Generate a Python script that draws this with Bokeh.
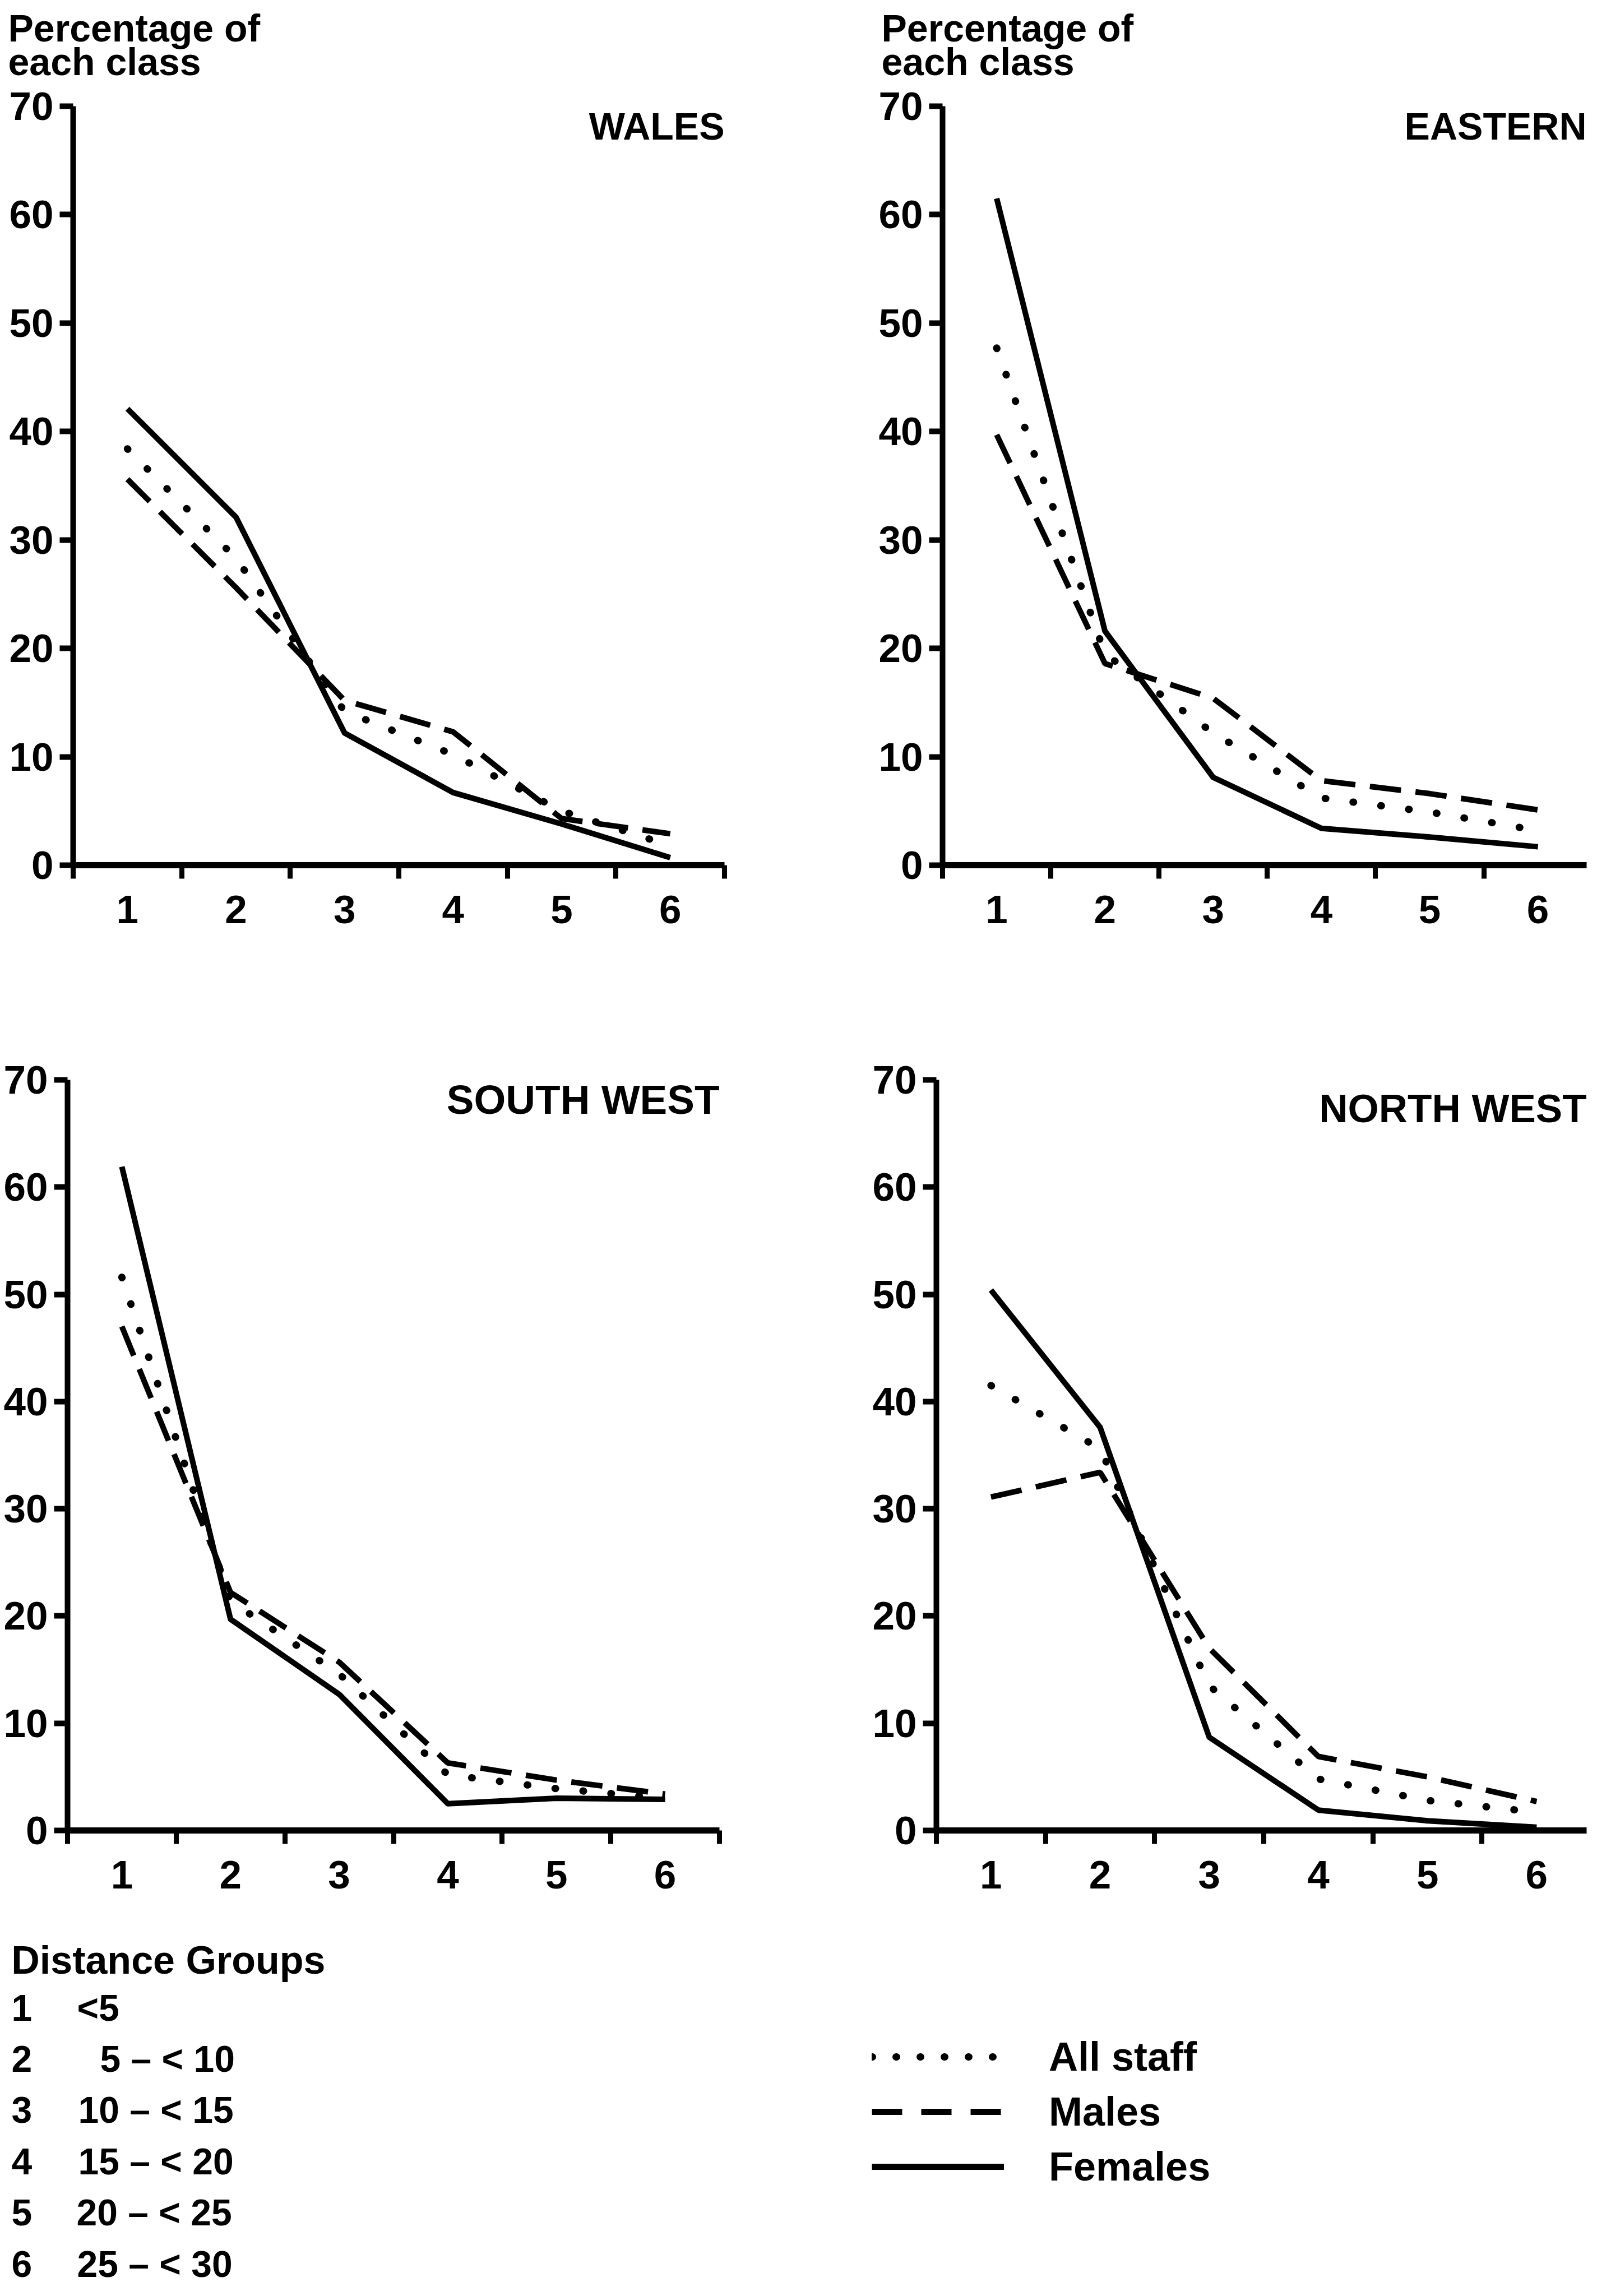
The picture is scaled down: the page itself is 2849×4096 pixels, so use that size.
from bokeh.plotting import figure
from bokeh.models import Range1d, FixedTicker, Label, Legend, LegendItem
from bokeh.layouts import column, row
from bokeh.embed import file_html
from bokeh.resources import INLINE
from bokeh.core.properties import value

# ---------------- data ----------------
distance_groups = [1, 2, 3, 4, 5, 6]
x_tick_labels = ["1", "2", "3", "4", "5", "6"]
y_ticks = [0, 10, 20, 30, 40, 50, 60, 70]
region_names = ["WALES", "EASTERN", "SOUTH WEST", "NORTH WEST"]
series_names = ["All staff", "Males", "Females"]

wales_all = [38.4, 28.3, 14.2, 10.2, 5.0, 1.8]
wales_males = [35.6, 25.6, 15.2, 12.3, 4.3, 2.9]
wales_females = [42.1, 32.1, 12.2, 6.7, 3.8, 0.7]

eastern_all = [47.7, 19.5, 12.2, 6.2, 4.9, 3.2]
eastern_males = [39.7, 18.6, 15.4, 7.8, 6.6, 5.1]
eastern_females = [61.5, 21.6, 8.1, 3.4, 2.6, 1.7]

southwest_all = [51.6, 21.4, 14.6, 5.2, 3.9, 3.0]
southwest_males = [47.0, 22.2, 15.7, 6.3, 4.7, 3.4]
southwest_females = [61.9, 19.7, 12.7, 2.5, 3.0, 2.9]

northwest_all = [41.5, 35.6, 13.5, 4.8, 2.8, 1.7]
northwest_males = [31.1, 33.4, 17.0, 6.9, 5.0, 2.7]
northwest_females = [50.4, 37.6, 8.7, 1.9, 0.9, 0.3]

group_numbers = ["1", "2", "3", "4", "5", "6"]
group_ranges = ["<5", "5 \u2013 < 10", "10 \u2013 < 15", "15 \u2013 < 20", "20 \u2013 < 25", "25 \u2013 < 30"]

y_axis_title_lines = ["Percentage of", "each class"]
legend_heading = "Distance Groups"

# ---------------- style ----------------
FONT = "Liberation Sans"
INK = "black"
NAN = float("nan")
HEADER_H = 150
KEY_TOP = 3428
KEY_H = 656


def panel(name, allv, males, females, width, height, bl, br, bt, bb, x_end,
          title_dx, title_dy, title_size):
    p = figure(width=width, height=height, title=None,
               x_range=Range1d(0.5, x_end), y_range=Range1d(0, 70),
               output_backend="svg", toolbar_location=None,
               min_border_left=bl, min_border_right=br,
               min_border_top=bt, min_border_bottom=bb)
    p.outline_line_color = None
    p.grid.visible = False
    p.background_fill_color = "white"
    p.border_fill_color = "white"

    xa = p.xaxis[0]
    xa.ticker = FixedTicker(ticks=distance_groups,
                            minor_ticks=[g - 0.5 for g in distance_groups] + [distance_groups[-1] + 0.5])
    xa.major_label_overrides = {g: l for g, l in zip(distance_groups, x_tick_labels)}
    xa.axis_line_width = 11
    xa.axis_line_color = INK
    xa.major_tick_out = 0
    xa.major_tick_in = 0
    xa.minor_tick_out = 24
    xa.minor_tick_in = 0
    xa.minor_tick_line_width = 9
    xa.minor_tick_line_color = INK
    xa.major_label_standoff = 30
    xa.major_label_text_font = FONT
    xa.major_label_text_font_style = "bold"
    xa.major_label_text_font_size = "71px"
    xa.major_label_text_color = INK

    ya = p.yaxis[0]
    ya.ticker = FixedTicker(ticks=y_ticks)
    ya.axis_line_width = 10
    ya.axis_line_color = INK
    ya.major_tick_out = 24
    ya.major_tick_in = 0
    ya.major_tick_line_width = 10
    ya.major_tick_line_color = INK
    ya.minor_tick_out = 0
    ya.minor_tick_in = 0
    ya.major_label_standoff = 11
    ya.major_label_text_font = FONT
    ya.major_label_text_font_style = "bold"
    ya.major_label_text_font_size = "71px"
    ya.major_label_text_color = INK

    p.add_layout(Label(x=x_end, y=70, text=name, text_align="right", text_baseline="middle",
                       x_offset=title_dx, y_offset=-title_dy,
                       text_font=FONT, text_font_style="bold", text_font_size=title_size,
                       text_color=INK))

    p.line(distance_groups, allv, line_width=13, line_dash="1 49", line_cap="round", color=INK)
    p.line(distance_groups, males, line_width=10, line_dash="56 26", color=INK)
    p.line(distance_groups, females, line_width=10, line_join="round", color=INK)
    return p


# ---------------- header strip (y-axis titles) ----------------
h = figure(width=2833, height=HEADER_H, x_range=Range1d(8, 2841), y_range=Range1d(8 + HEADER_H, 8),
           output_backend="svg", toolbar_location=None,
           x_axis_location=None, y_axis_location=None, min_border=0)
h.outline_line_color = None
h.grid.visible = False
htxt = dict(text_font=value(FONT), text_font_style="bold", text_baseline="middle",
            text_align="left", text_color=INK, text_font_size="68px")
for xl in (22, 1580):
    h.text(x=[xl, xl], y=[57, 117], text=y_axis_title_lines, **htxt)

top_b = 189 - HEADER_H
p_wales = panel(region_names[0], wales_all, wales_males, wales_females,
                1400, 1700 - HEADER_H, 130, 108, top_b, 157, 6.5, 0, 35, "68px")
p_east = panel(region_names[1], eastern_all, eastern_males, eastern_females,
               1433, 1700 - HEADER_H, 281, 3, top_b, 157, 6.45, 0, 35, "68px")
p_sw = panel(region_names[2], southwest_all, southwest_males, southwest_females,
             1400, 1720, 120, 117, 226, 136, 6.5, 0, 35, "73px")
p_nw = panel(region_names[3], northwest_all, northwest_males, northwest_females,
             1433, 1720, 270, 3, 221, 155, 6.458, 0, 51, "71px")

# ---------------- bottom key ----------------
b = figure(width=2833, height=KEY_H, x_range=Range1d(8, 2841),
           y_range=Range1d(KEY_TOP + KEY_H, KEY_TOP),
           output_backend="svg", toolbar_location=None,
           x_axis_location=None, y_axis_location=None, min_border=0)
b.outline_line_color = None
b.grid.visible = False

txt = dict(text_font=value(FONT), text_font_style="bold", text_baseline="middle",
           text_align="left", text_color=INK)
b.text(x=[27.7], y=[3504], text=[legend_heading], text_font_size="70px", **txt)
row_y = [3589 + i * 91.4 for i in range(len(group_numbers))]
b.text(x=[28] * len(group_numbers), y=row_y, text=group_numbers, text_font_size="66px", **txt)
b.text(x=[145, 186, 147, 147, 144, 145], y=row_y, text=group_ranges, text_font_size="66px", **txt)

r_all = b.line(x=[NAN], y=[NAN], line_width=13, line_dash="1 42", line_cap="round", color=INK)
r_m = b.line(x=[NAN], y=[NAN], line_width=11, line_dash="54 34", color=INK)
r_f = b.line(x=[NAN], y=[NAN], line_width=11, color=INK)
leg = Legend(items=[LegendItem(label=series_names[0], renderers=[r_all]),
                    LegendItem(label=series_names[1], renderers=[r_m]),
                    LegendItem(label=series_names[2], renderers=[r_f])],
             location=(1555, 173 - (660 - KEY_H)), glyph_width=236, glyph_height=84, label_height=84,
             label_standoff=80, spacing=14, padding=0, margin=0,
             border_line_color=None, background_fill_alpha=0,
             label_text_font=FONT, label_text_font_style="bold",
             label_text_font_size="72px", label_text_color=INK)
b.add_layout(leg)

layout = column(h, row(p_wales, p_east), row(p_sw, p_nw), b)
open("out.html", "w").write(file_html(layout, INLINE))
